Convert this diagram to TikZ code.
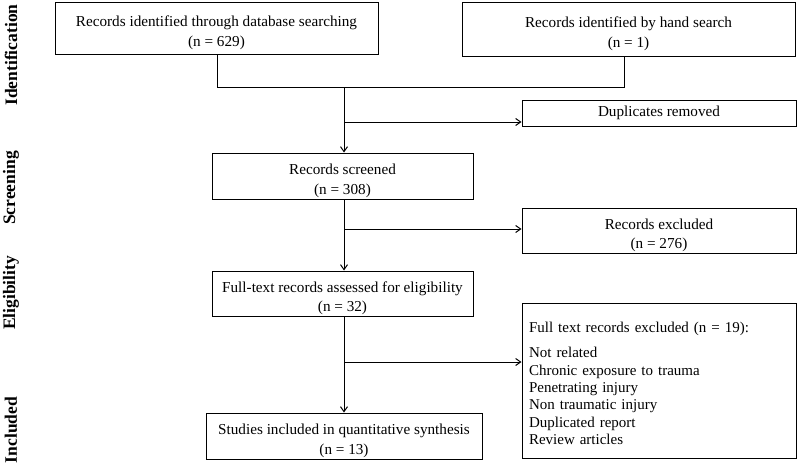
\documentclass[tikz,border=0pt]{standalone}
\usepackage{fontspec}
\setmainfont{Liberation Serif}
\usetikzlibrary{arrows.meta}
\newcommand{\mytopgap}{\rule{0pt}{20pt}}
\begin{document}
\begin{tikzpicture}[x=1pt,y=-1pt,
  box/.style={draw, line width=1pt, align=center, inner sep=0pt,
    font=\fontsize{15.2}{19.5}\selectfont},
  listbox/.style={draw, line width=1pt, align=left, inner xsep=7pt, inner ysep=0pt,
    font=\fontsize{15}{17.4}\selectfont},
  phase/.style={rotate=90, font=\fontsize{17.5}{18}\selectfont\bfseries, inner sep=0pt},
  conn/.style={line width=1pt},
  arr/.style={conn, -{Straight Barb[length=5pt,width=7pt,line width=1pt]}}]
\useasboundingbox (0,0) rectangle (798,466);

\node[phase] (pid) at (11,55) {Identification};
\node[phase] (psc) at (11,188) {Screening};
\node[phase] (pel) at (11,293) {Eligibility};
\node[phase] (pin) at (11,430) {Included};

\node[box, minimum width=323pt, minimum height=52pt] (db) at (216.5,28) {\mytopgap Records identified through database searching\\(n = 629)};
\node[box, minimum width=333pt, minimum height=54pt] (hand) at (628.5,29) {\mytopgap Records identified by hand search\\(n = 1)};
\node[box, minimum width=274pt, minimum height=26pt] (dup) at (659,113) {Duplicates removed};
\node[box, minimum width=261pt, minimum height=46pt] (scr) at (342.5,176) {\mytopgap Records screened\\(n = 308)};
\node[box, minimum width=274pt, minimum height=45pt] (rex) at (659,230.5) {\mytopgap Records excluded\\(n = 276)};
\node[box, minimum width=261pt, minimum height=45pt] (ft) at (342.5,293.5) {\mytopgap Full-text records assessed for eligibility\\(n = 32)};
\node[listbox, text width=260pt, minimum height=155pt] (fex) at (659,380.5) {\rule{0pt}{16.5pt}Full text records excluded (n = 19):\\[7.6pt]Not related\\Chronic exposure to trauma\\Penetrating injury\\Non traumatic injury\\Duplicated report\\Review articles};
\node[box, minimum width=276pt, minimum height=46pt] (inc) at (344,436) {\mytopgap Studies included in quantitative synthesis\\(n = 13)};

\coordinate (jl) at (217,87);
\coordinate (jr) at (624,87);
\coordinate (jm) at (344,87);
\coordinate (b1) at (344,122);
\coordinate (b2) at (344,229);
\coordinate (b3) at (344,362);

\draw[conn] (db.south -| jl) -- (jl) -- (jr) -- (hand.south -| jr);
\draw[arr] (jm) -- (scr.north -| jm);
\draw[arr] (b1) -- (dup.west |- b1);
\draw[arr] (scr.south -| jm) -- (ft.north -| jm);
\draw[arr] (b2) -- (rex.west |- b2);
\draw[arr] (ft.south -| jm) -- (inc.north -| jm);
\draw[arr] (b3) -- (fex.west |- b3);
\end{tikzpicture}
\end{document}
